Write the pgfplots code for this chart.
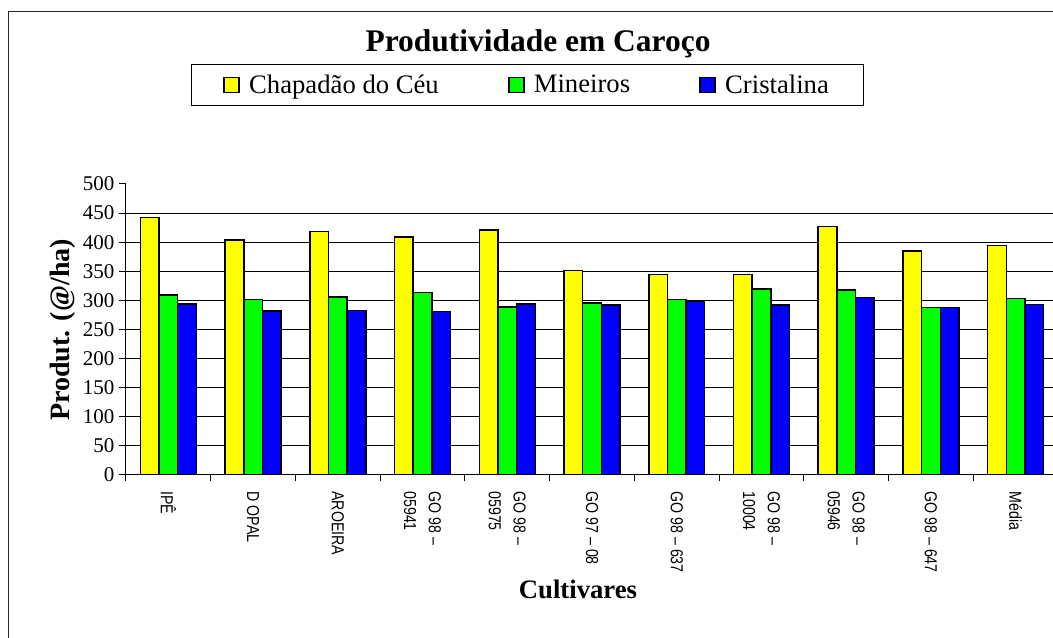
\documentclass[border=0pt]{standalone}
\usepackage{fontspec}
\setmainfont{Liberation Serif}
\newfontfamily\narrowfont[FakeStretch=0.82]{Liberation Sans}
\usepackage{pgfplots}
\usepackage{pgfplotstable}
\pgfplotsset{compat=1.18}
\definecolor{cy}{RGB}{255,255,0}
\definecolor{cg}{RGB}{0,255,0}
\definecolor{cb}{RGB}{0,0,255}
\pgfplotstableread{
x Y G B
0 442.8 309.0 294.0
1 404.0 302.0 282.0
2 418.7 306.0 283.0
3 409.0 314.0 281.0
4 421.0 288.7 294.0
5 351.0 295.5 292.0
6 344.8 302.0 297.8
7 344.8 319.6 292.0
8 426.6 317.9 304.6
9 385.0 287.5 288.0
10 394.7 303.6 292.6
}\data
\pgfplotsset{sq legend/.style={legend image code/.code={\draw[##1,line width=1.1pt] (0pt,-5.6pt) rectangle (11.2pt,5.6pt);}}}
\begin{document}
\begin{tikzpicture}
\useasboundingbox (0,0) rectangle (789.75pt,478.5pt);
\clip (0,0) rectangle (789.75pt,478.5pt);
\draw[line width=0.75pt, black!85] (6.2pt,469.5pt) rectangle (820pt,-20pt);
\begin{axis}[
  at={(94.5pt,122.25pt)}, anchor=south west,
  scale only axis, width=699pt, height=218.25pt,
  xmin=-0.5, xmax=10.5, ymin=0, ymax=500,
  axis lines*=left,
  axis line style={line width=0.75pt, -},
  ybar=0pt, bar width=0.22,
  xtick={0,...,10},
  xticklabels={IPÊ, D OPAL, AROEIRA, {GO 98 –\\05941}, {GO 98 –\\05975}, GO 97 – 08, GO 98 – 637, {GO 98 –\\10004}, {GO 98 –\\05946}, GO 98 – 647, Média},
  minor xtick={-0.5,0.5,...,10.5},
  major x tick style={draw=none},
  minor x tick style={line width=0.75pt, black},
  ytick={0,50,...,500},
  y tick style={line width=0.75pt, black},
  tick align=outside,
  major tick length=5.25pt, minor tick length=4.5pt,
  extra y ticks={50,100,...,450},
  extra y tick labels={},
  extra y tick style={grid=major, major tick length=0pt},
  grid style={line width=0.75pt, black},
  /pgf/number format/assume math mode=true,
  yticklabel style={font=\fontsize{15.75}{18}\selectfont},
  xticklabel style={yshift=-3.5pt, rotate=-90, anchor=west, align=left, font={\narrowfont\fontsize{13}{18.5}\selectfont}},
  legend columns=3,
  legend style={at={(0.4308,1.340)}, anchor=center, draw=black, line width=0.75pt, fill=white,
    font=\fontsize{20}{24}\selectfont, inner xsep=24pt, inner ysep=5.5pt,
    /tikz/every odd column/.append style={column sep=5pt},
    /tikz/every even column/.append style={column sep=50pt}},
]
\addplot[fill=cy, draw=black, line width=1.1pt, sq legend] table[x=x,y=Y]{\data};
\addplot[fill=cg, draw=black, line width=1.1pt, sq legend] table[x=x,y=G]{\data};
\addplot[fill=cb, draw=black, line width=1.1pt, sq legend] table[x=x,y=B]{\data};
\legend{Chapadão do Céu, Mineiros, Cristalina}
\end{axis}
\node[anchor=base, font=\fontsize{23.6}{28}\selectfont\bfseries] at (403.5pt,439.5pt) {Produtividade em Caroço};
\node[rotate=90, anchor=base, font=\fontsize{21}{25}\selectfont\bfseries] at (51.75pt,231pt) {Produt. (@/ha)};
\node[anchor=base, font=\fontsize{20}{24}\selectfont\bfseries] at (433.5pt,29.25pt) {Cultivares};
\end{tikzpicture}
\end{document}
